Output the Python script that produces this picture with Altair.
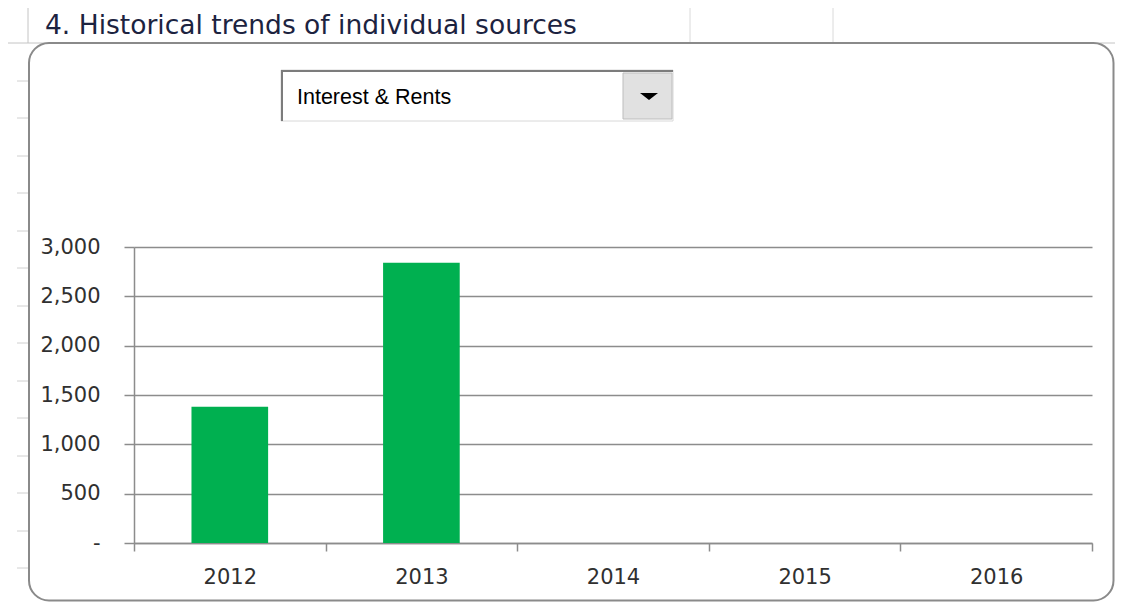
import altair as alt
import pandas as pd

# ---- data ----
years = ["2012", "2013", "2014", "2015", "2016"]
values = [1380, 2840, None, None, None]
y_ticks = [0, 500, 1000, 1500, 2000, 2500, 3000]
selected_source = "Interest & Rents"
title_text = "4. Historical trends of individual sources"

df = pd.DataFrame({"year": years, "value": values})
one = pd.DataFrame({"d": [0]})

# plot-area geometry (pixels)
W, H = 958, 296
PAD = {"left": 126, "top": 239, "right": 23, "bottom": 59}
OX, OY = 134, 247  # page position of the plot origin


def px(p):
    return p - OX


def py(p):
    return p - OY


def hrule(x1, x2, y, color, w=1.0):
    return alt.Chart(one).mark_rule(color=color, strokeWidth=w).encode(
        x=alt.value(px(x1)), x2=alt.value(px(x2)), y=alt.value(py(y)))


def vrule(x, y1, y2, color, w=1.0):
    return alt.Chart(one).mark_rule(color=color, strokeWidth=w).encode(
        x=alt.value(px(x)), y=alt.value(py(y1)), y2=alt.value(py(y2)))


layers = []

# spreadsheet cell lines behind the chart object
sheet = "#d0d0d0"
layers.append(hrule(8, 1115, 43, "#c4c4c4", 1))
layers.append(vrule(28, 8, 43, "#c4c4c4", 1))
layers.append(vrule(690, 8, 43, "#dadada", 1))
layers.append(vrule(833, 8, 43, "#dadada", 1))
rows = [81, 118, 156, 193, 231, 268, 306, 343, 381, 418, 456, 493, 531, 568]
for r in rows:
    layers.append(hrule(17, 28, r, sheet, 1))

# rounded chart frame
layers.append(
    alt.Chart(one).mark_rect(filled=False, color="#8a8a8a", strokeWidth=2,
                             cornerRadius=20).encode(
        x=alt.value(px(29)), x2=alt.value(px(1113.5)),
        y=alt.value(py(43)), y2=alt.value(py(600.5))))

# title in the sheet cell
layers.append(
    alt.Chart(one).mark_text(text=title_text, font="DejaVu Sans", fontSize=26.5,
                             color="#1c2340", align="left",
                             baseline="alphabetic").encode(
        x=alt.value(px(45)), y=alt.value(py(34))))

# drop-down control
layers.append(
    alt.Chart(one).mark_rect(fill="white", stroke="#d8d8d8", strokeWidth=1).encode(
        x=alt.value(px(281)), x2=alt.value(px(673)),
        y=alt.value(py(70)), y2=alt.value(py(121))))
layers.append(hrule(281, 673, 71, "#7c7c7c", 2))
layers.append(vrule(282, 70, 121, "#7c7c7c", 2))
layers.append(
    alt.Chart(one).mark_rect(fill="#e1e1e1", stroke="#bdbdbd", strokeWidth=1).encode(
        x=alt.value(px(623)), x2=alt.value(px(672)),
        y=alt.value(py(73)), y2=alt.value(py(119))))
layers.append(
    alt.Chart(one).mark_point(shape="M-1,-0.4L1,-0.4L0,0.4Z", size=324, filled=True,
                              color="black", opacity=1).encode(
        x=alt.value(px(649)), y=alt.value(py(96.5))))
layers.append(
    alt.Chart(one).mark_text(text=selected_source, font="Liberation Sans", fontSize=21.5,
                             color="black", align="left",
                             baseline="alphabetic").encode(
        x=alt.value(px(297)), y=alt.value(py(104))))

# the bar chart itself
axis_gray = "#8c8c8c"
bars = alt.Chart(df).mark_bar(color="#00B050", width=alt.RelativeBandSize(0.4)).encode(
    x=alt.X("year:N",
            scale=alt.Scale(domain=years, paddingInner=0, paddingOuter=0),
            axis=alt.Axis(title=None, labelAngle=0, tickBand="extent", tickSize=8,
                          tickColor=axis_gray, tickWidth=1.5, domainColor=axis_gray,
                          domainWidth=1.5, labelFont="DejaVu Sans", labelFontSize=21,
                          labelColor="#303030", labelPadding=15, grid=False)),
    y=alt.Y("value:Q",
            scale=alt.Scale(domain=[0, 3000], nice=False),
            axis=alt.Axis(title=None, values=y_ticks,
                          labelExpr="datum.value == 0 ? '-' : format(datum.value, ',')",
                          tickSize=10, tickColor=axis_gray, tickWidth=1.5,
                          domainColor=axis_gray, domainWidth=1.5,
                          labelFont="DejaVu Sans", labelFontSize=21,
                          labelColor="#303030", labelPadding=24,
                          grid=True, gridColor=axis_gray, gridWidth=1.5)),
)
layers.append(bars)

chart = alt.layer(*layers).properties(
    width=W, height=H, padding=PAD,
    autosize=alt.AutoSizeParams(type="none"),
    background="white",
).configure_view(stroke=None)

chart.save("out.html", embed_options={"renderer": "svg", "actions": False})
